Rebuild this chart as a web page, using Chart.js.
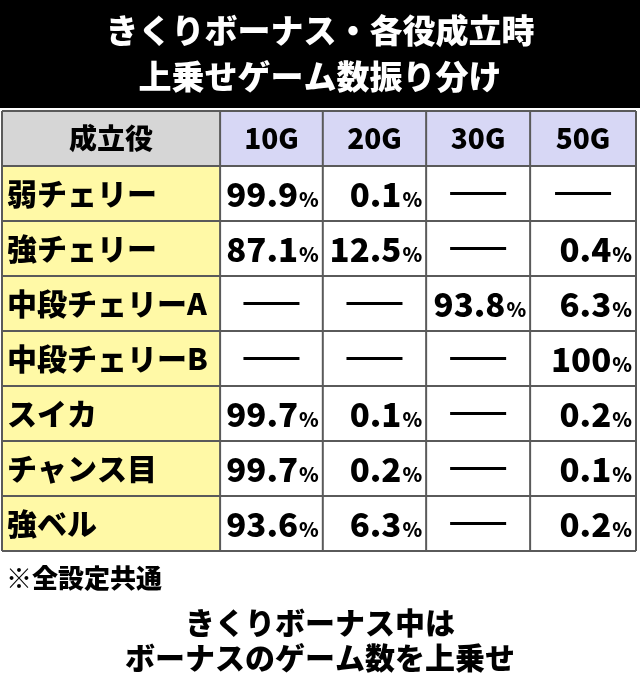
<!DOCTYPE html>
<html><head><meta charset="utf-8">
<script src="https://cdn.jsdelivr.net/npm/chart.js@4"></script>
<style>body{margin:0;background:#fff}canvas{display:block}</style>
</head><body>
<canvas id="c" width="640" height="684"></canvas>
<script>
const titleLines = ["きくりボーナス・各役成立時", "上乗せゲーム数振り分け"];
const headerLabel = "成立役";
const roles = ["弱チェリー", "強チェリー", "中段チェリーA", "中段チェリーB", "スイカ", "チャンス目", "強ベル"];
const games = ["10G", "20G", "30G", "50G"];
const g10 = [99.9, 87.1, null, null, 99.7, 99.7, 93.6];
const g20 = [0.1, 12.5, null, null, 0.1, 0.2, 6.3];
const g30 = [null, null, 93.8, null, null, null, null];
const g50 = [null, 0.4, 6.3, 100, 0.2, 0.1, 0.2];
const note = "※全設定共通";
const footer = ["きくりボーナス中は", "ボーナスのゲーム数を上乗せ"];

// column edges on the x scale (0..100)
const colEdges = [0, 34.4, 50.6, 66.9, 83.3, 100];
const FONT = '"Noto Sans CJK JP", sans-serif';

const tablePlugin = {
	id: "table",
	beforeDraw(chart) {
		const ctx = chart.ctx;
		ctx.save();
		ctx.fillStyle = "#000";
		ctx.fillRect(0, 0, chart.width, 108);
		ctx.fillStyle = "#fff";
		ctx.textAlign = "center";
		ctx.textBaseline = "middle";
		ctx.font = `900 33px ${FONT}`;
		ctx.fillText(titleLines[0], chart.width / 2, 30);
		ctx.fillText(titleLines[1], chart.width / 2, 76);
		ctx.restore();
	},
	afterDraw(chart) {
		const ctx = chart.ctx;
		const x = chart.scales.x;
		const y = chart.scales.y;
		const cols = [g10, g20, g30, g50];
		const rowLabels = [headerLabel, ...roles];
		const band = (y.getPixelForValue(1) - y.getPixelForValue(0));
		ctx.save();
		rowLabels.forEach((lab, r) => {
			const cy = y.getPixelForValue(r);
			const top = cy - band / 2;
			for (let c = 0; c < 5; c++) {
				const l = x.getPixelForValue(colEdges[c]);
				const rr = x.getPixelForValue(colEdges[c + 1]);
				if (r === 0) ctx.fillStyle = c === 0 ? "#d6d6d6" : "#d7d7f5";
				else ctx.fillStyle = c === 0 ? "#fff9a6" : "#ffffff";
				ctx.fillRect(l, top, rr - l, band);
				ctx.fillStyle = "#000";
				ctx.textBaseline = "middle";
				if (r === 0) {
					ctx.textAlign = "center";
					ctx.font = `900 28px ${FONT}`;
					ctx.fillText(c === 0 ? lab : games[c - 1], (l + rr) / 2, cy);
				} else if (c === 0) {
					ctx.textAlign = "left";
					ctx.font = `900 30px ${FONT}`;
					ctx.fillText(lab, l + 5, cy);
				} else {
					const v = cols[c - 1][r - 1];
					if (v === null) {
						ctx.fillRect((l + rr) / 2 - 28, cy - 1.5, 56, 3);
					} else {
						const txt = v === 100 ? "100" : v.toFixed(1);
						ctx.textAlign = "right";
						ctx.font = `900 20px ${FONT}`;
						const pw = ctx.measureText("%").width;
						ctx.fillText("%", rr - 4, cy + 6);
						ctx.font = `900 33px ${FONT}`;
						ctx.fillText(txt, rr - 5 - pw, cy + 1);
					}
				}
			}
		});
		// grid lines
		ctx.strokeStyle = "#5a5a5a";
		ctx.lineWidth = 2;
		const t0 = y.getPixelForValue(0) - band / 2;
		const t1 = y.getPixelForValue(rowLabels.length - 1) + band / 2;
		for (let r = 0; r <= rowLabels.length; r++) {
			const yy = t0 + r * band;
			ctx.beginPath(); ctx.moveTo(x.getPixelForValue(0), yy); ctx.lineTo(x.getPixelForValue(100), yy); ctx.stroke();
		}
		colEdges.forEach((e) => {
			const xx = x.getPixelForValue(e);
			ctx.beginPath(); ctx.moveTo(xx, t0); ctx.lineTo(xx, t1); ctx.stroke();
		});
		// notes
		ctx.fillStyle = "#000";
		ctx.textBaseline = "middle";
		ctx.textAlign = "left";
		ctx.font = `900 26px ${FONT}`;
		ctx.fillText(note, 6, 578);
		ctx.textAlign = "center";
		ctx.font = `900 30px ${FONT}`;
		ctx.fillText(footer[0], chart.width / 2, 623);
		ctx.fillText(footer[1], chart.width / 2, 658);
		ctx.restore();
	},
};

new Chart(document.getElementById("c"), {
	type: "scatter",
	data: { datasets: [{ data: [] }] },
	options: {
		responsive: false,
		animation: false,
		layout: { padding: { top: 111, bottom: 133, left: 2, right: 4 } },
		plugins: { legend: { display: false }, tooltip: { enabled: false } },
		scales: {
			x: { type: "linear", min: 0, max: 100, display: false },
			y: { type: "category", labels: [headerLabel, ...roles], offset: true, display: false },
		},
	},
	plugins: [tablePlugin],
});
</script>
</body></html>
